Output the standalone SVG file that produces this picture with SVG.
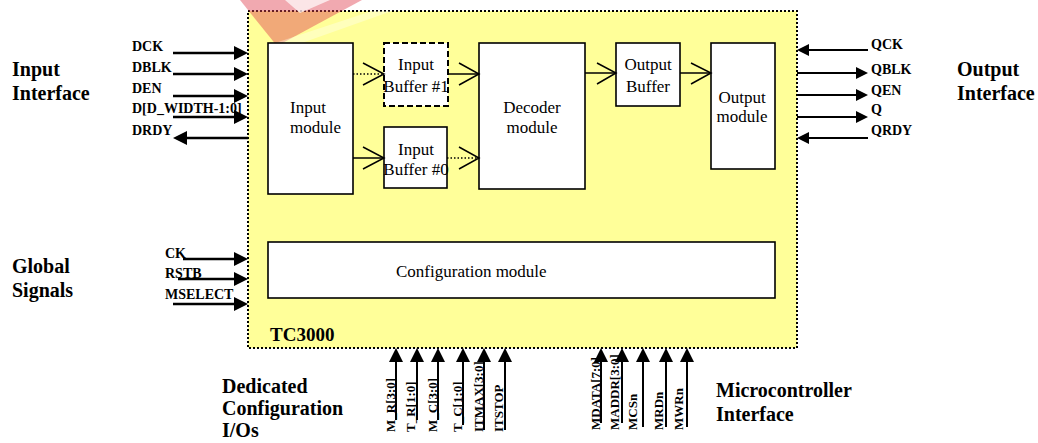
<svg xmlns="http://www.w3.org/2000/svg" width="1038" height="443" viewBox="0 0 1038 443">
<style>
text{font-family:'Liberation Serif','DejaVu Serif',serif}
.lbl{font-weight:bold;font-size:14px;fill:#000}
.big{font-weight:bold;font-size:20px;fill:#000}
.txt{font-size:17px;fill:#000}
.box{fill:#fff;stroke:#000;stroke-width:1.6}
.sig{stroke:#000;stroke-width:2.5;fill:none}
.sig2{stroke:#000;stroke-width:2;fill:none}
.int{stroke:#000;stroke-width:1.5;fill:none}
.dot{stroke:#000;stroke-width:1.5;stroke-dasharray:1.5 2;fill:none}
.rot{font-weight:bold;font-size:13px;fill:#000}
</style>
<defs>
<marker id="fa" viewBox="0 0 14 14" markerWidth="14" markerHeight="14" refX="8" refY="7" orient="auto" markerUnits="userSpaceOnUse"><path d="M0,0 L14,7 L0,14 z" fill="#000"/></marker>
<marker id="fb" viewBox="0 0 12 12" markerWidth="12" markerHeight="12" refX="7" refY="6" orient="auto" markerUnits="userSpaceOnUse"><path d="M0,0 L12,6 L0,12 z" fill="#000"/></marker>
</defs>
<rect x="0" y="0" width="1038" height="443" fill="#fff"/>
<g id="tc3000">
<rect x="248" y="11" width="549" height="337" fill="#FFFF99" stroke="#000" stroke-width="2" stroke-dasharray="2 2"/>
<text class="big" x="270" y="341" font-family="Liberation Serif, DejaVu Serif, serif" style="font-size:19px">TC3000</text>
</g>
<g id="watermark">
<polygon points="240,0 362,0 277,46" fill="#E04050" fill-opacity="0.45"/>
<polygon points="285,0 330,0 300,13" fill="#fff" fill-opacity="0.7"/>
<polygon points="372,11 392,11 282,50 266,46" fill="#fff" fill-opacity="0.35"/>
</g>
<g id="input-module"><rect class="box" x="268" y="43" width="85" height="151"/><text class="txt" x="290" y="113">Input</text><text class="txt" x="290" y="133">module</text></g>
<g id="input-buffer-1"><rect x="384" y="43" width="64" height="63" fill="#fff" stroke="#000" stroke-width="2" stroke-dasharray="6 3"/><text class="txt" x="416" y="70" text-anchor="middle">Input</text><text class="txt" x="416" y="92" text-anchor="middle">Buffer #1</text></g>
<g id="input-buffer-0"><rect class="box" x="384" y="127" width="63" height="61"/><text class="txt" x="416" y="155" text-anchor="middle">Input</text><text class="txt" x="416" y="175" text-anchor="middle">Buffer #0</text></g>
<g id="decoder-module"><rect class="box" x="479" y="43" width="106" height="146"/><text class="txt" x="532" y="113" text-anchor="middle">Decoder</text><text class="txt" x="532" y="133" text-anchor="middle">module</text></g>
<g id="output-buffer"><rect class="box" x="616" y="43" width="64" height="63"/><text class="txt" x="648" y="70" text-anchor="middle">Output</text><text class="txt" x="648" y="92" text-anchor="middle">Buffer</text></g>
<g id="output-module"><rect class="box" x="711" y="43" width="64" height="126"/><text class="txt" x="742" y="103" text-anchor="middle">Output</text><text class="txt" x="742" y="122" text-anchor="middle">module</text></g>
<g id="configuration-module"><rect class="box" x="268" y="242" width="507" height="56"/><text class="txt" x="396" y="277">Configuration module</text></g>
<g id="group-labels">
<text class="big" x="12" y="76">Input</text><text class="big" x="12" y="100">Interface</text>
<text class="big" x="12" y="273">Global</text><text class="big" x="12" y="297">Signals</text>
<text class="big" x="957" y="76">Output</text><text class="big" x="957" y="100">Interface</text>
<text class="big" x="222" y="393">Dedicated</text><text class="big" x="222" y="415">Configuration</text><text class="big" x="222" y="437">I/Os</text>
<text class="big" x="716" y="397">Microcontroller</text><text class="big" x="716" y="421">Interface</text>
</g>
<g id="signal-labels">
<text class="lbl" x="132" y="51">DCK</text>
<text class="lbl" x="132" y="72">DBLK</text>
<text class="lbl" x="132" y="93">DEN</text>
<text class="lbl" x="132" y="113">D[D_WIDTH-1:0]</text>
<text class="lbl" x="132" y="135">DRDY</text>
<text class="lbl" x="871" y="49">QCK</text>
<text class="lbl" x="871" y="74">QBLK</text>
<text class="lbl" x="871" y="95">QEN</text>
<text class="lbl" x="871" y="114">Q</text>
<text class="lbl" x="871" y="135">QRDY</text>
<text class="lbl" x="165" y="258">CK</text>
<text class="lbl" x="165" y="278">RSTB</text>
<text class="lbl" x="165" y="299">MSELECT</text>
<text class="rot" transform="translate(395,432) rotate(-90)">M_R[3:0]</text>
<text class="rot" transform="translate(415,432) rotate(-90)">T_R[1:0]</text>
<text class="rot" transform="translate(437,432) rotate(-90)">M_C[3:0]</text>
<text class="rot" transform="translate(462,432) rotate(-90)">T_C[1:0]</text>
<text class="rot" transform="translate(483,432) rotate(-90)">ITMAX[3:0]</text>
<text class="rot" transform="translate(503,432) rotate(-90)">ITSTOP</text>
<text class="rot" transform="translate(600,430) rotate(-90)">MDATA[7:0]</text>
<text class="rot" transform="translate(619,430) rotate(-90)">MADDR[3:0]</text>
<text class="rot" transform="translate(637,430) rotate(-90)">MCSn</text>
<text class="rot" transform="translate(663,430) rotate(-90)">MRDn</text>
<text class="rot" transform="translate(683,430) rotate(-90)">MWRn</text>
</g>
<g id="connectors">
<line class="sig" x1="173" y1="53" x2="242" y2="53" marker-end="url(#fa)"/>
<line class="sig" x1="173" y1="74" x2="242" y2="74" marker-end="url(#fa)"/>
<line class="sig" x1="173" y1="96" x2="242" y2="96" marker-end="url(#fa)"/>
<line class="sig" x1="173" y1="117" x2="242" y2="117" marker-end="url(#fa)"/>
<line class="sig" x1="248" y1="138" x2="179" y2="138" marker-end="url(#fa)"/>
<line class="sig2" x1="868" y1="50" x2="802" y2="50" marker-end="url(#fb)"/>
<line class="sig2" x1="797" y1="73" x2="863" y2="73" marker-end="url(#fb)"/>
<line class="sig2" x1="797" y1="95" x2="863" y2="95" marker-end="url(#fb)"/>
<line class="sig2" x1="797" y1="117" x2="863" y2="117" marker-end="url(#fb)"/>
<line class="sig2" x1="868" y1="138" x2="802" y2="138" marker-end="url(#fb)"/>
<line class="sig" x1="183" y1="259" x2="242" y2="259" marker-end="url(#fa)"/>
<line class="sig" x1="178" y1="279" x2="242" y2="279" marker-end="url(#fa)"/>
<line class="sig" x1="173" y1="304" x2="242" y2="304" marker-end="url(#fa)"/>
<line class="sig2" x1="396" y1="420" x2="396" y2="354" marker-end="url(#fa)"/>
<line class="sig2" x1="417" y1="420" x2="417" y2="354" marker-end="url(#fa)"/>
<line class="sig2" x1="438" y1="420" x2="438" y2="354" marker-end="url(#fa)"/>
<line class="sig2" x1="463" y1="425" x2="463" y2="354" marker-end="url(#fa)"/>
<line class="sig2" x1="484" y1="430" x2="484" y2="354" marker-end="url(#fa)"/>
<line class="sig2" x1="505" y1="430" x2="505" y2="354" marker-end="url(#fa)"/>
<line class="sig2" x1="601" y1="423" x2="601" y2="354" marker-end="url(#fa)"/>
<line class="sig2" x1="622" y1="423" x2="622" y2="354" marker-end="url(#fa)"/>
<line class="sig2" x1="643" y1="427" x2="643" y2="354" marker-end="url(#fa)"/>
<line class="sig2" x1="666" y1="427" x2="666" y2="354" marker-end="url(#fa)"/>
<line class="sig2" x1="687" y1="427" x2="687" y2="354" marker-end="url(#fa)"/>
<line class="dot" x1="353" y1="74" x2="384" y2="74"/>
<path class="int" d="M363,63 L384,74 L363,85"/>
<line class="int" x1="353" y1="158" x2="384" y2="158"/>
<path class="int" d="M363,147 L384,158 L363,169"/>
<line class="int" x1="448" y1="74" x2="479" y2="74"/>
<path class="int" d="M459,63 L479,74 L459,85"/>
<line class="dot" x1="447" y1="158" x2="479" y2="158"/>
<path class="int" d="M459,147 L479,158 L459,169"/>
<line class="int" x1="585" y1="73" x2="616" y2="73"/>
<path class="int" d="M597,63 L616,73 L597,84"/>
<line class="int" x1="680" y1="73" x2="711" y2="73"/>
<path class="int" d="M691,63 L711,73 L691,84"/>
</g>
</svg>
